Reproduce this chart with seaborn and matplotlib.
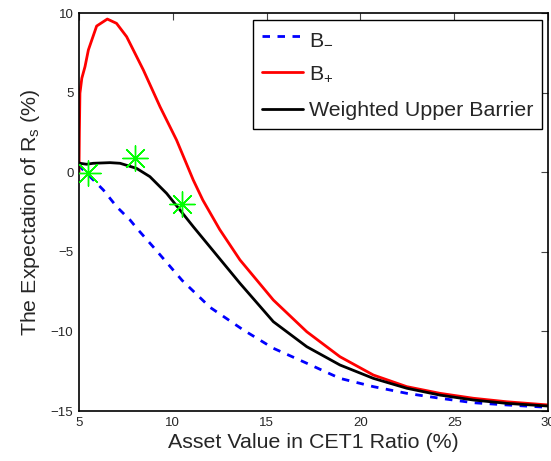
import numpy as np
import pandas as pd
import matplotlib
matplotlib.use('Agg')
import matplotlib.pyplot as plt
import seaborn as sns

# B_- (lower barrier)
blue_x = [5.0, 5.05, 5.59, 6.3, 7.01, 7.72, 8.16, 9.0, 10.5, 12.0, 13.76, 15.36, 17.14, 18.91, 20.69, 22.47, 24.24, 26.02, 27.8, 30.0]
blue_y = [0.5, 0.35, -0.28, -1.12, -2.17, -3.0, -3.63, -4.75, -6.8, -8.5, -9.91, -11.06, -12.0, -12.95, -13.47, -13.89, -14.2, -14.48, -14.62, -14.77]

# B_+ (upper barrier)
red_x = [5.0, 5.02, 5.05, 5.15, 5.32, 5.5, 5.94, 6.51, 7.0, 7.54, 8.43, 9.32, 10.2, 11.09, 11.6, 12.5, 13.58, 15.36, 17.14, 18.91, 20.69, 22.47, 24.24, 26.02, 27.8, 30.0]
red_y = [0.0, 2.5, 4.96, 5.9, 6.63, 7.68, 9.18, 9.62, 9.35, 8.51, 6.42, 4.11, 2.02, -0.49, -1.75, -3.6, -5.51, -8.03, -10.02, -11.59, -12.74, -13.47, -13.89, -14.2, -14.42, -14.62]

# weighted upper barrier
black_x = [5.0, 5.05, 5.4, 5.76, 6.65, 7.19, 8.07, 8.78, 9.67, 10.38, 11.09, 12.3, 13.58, 15.36, 17.14, 18.91, 20.69, 22.47, 24.24, 26.02, 27.8, 30.0]
black_y = [0.6, 0.56, 0.5, 0.56, 0.6, 0.56, 0.24, -0.28, -1.33, -2.37, -3.42, -5.15, -6.98, -9.39, -10.96, -12.11, -12.95, -13.57, -14.0, -14.31, -14.52, -14.69]

# highlighted points
star_x = [5.5, 7.98, 10.47]
star_y = [-0.07, 0.87, -2.0]

sns.set_style('white')
plt.rcParams['font.family'] = ['Liberation Sans', 'DejaVu Sans']
plt.rcParams['mathtext.fontset'] = 'custom'
plt.rcParams['mathtext.rm'] = 'Liberation Sans'
plt.rcParams['mathtext.it'] = 'Liberation Sans:italic'

fig = plt.figure(figsize=(5.51, 4.61), dpi=100)
ax = fig.add_axes([79 / 551, 50 / 461, 469 / 551, 398 / 461])

lw = 2.0
sns.lineplot(x=blue_x, y=blue_y, ax=ax, color='#0000ff', lw=lw, linestyle=(0, (2.7, 2.7)),
             label='B$_{-}$', sort=False)
sns.lineplot(x=red_x, y=red_y, ax=ax, color='#ff0000', lw=lw, label='B$_{+}$', sort=False)
sns.lineplot(x=black_x, y=black_y, ax=ax, color='black', lw=lw, label='Weighted Upper Barrier', sort=False)
sns.scatterplot(x=star_x, y=star_y, ax=ax, marker=(8, 2, 0), s=330, color='#00ff00',
                edgecolor='#00ff00', linewidth=1.0, zorder=5, legend=False)

ax.set_xlim(5, 30)
ax.set_ylim(-15, 10)
ax.set_xticks([5, 10, 15, 20, 25, 30])
ax.set_yticks([-15, -10, -5, 0, 5, 10])
ax.tick_params(direction='in', top=True, right=True, length=5, width=0.8,
               color='#444444', labelsize=9.5, pad=4)
for sp in ax.spines.values():
    sp.set_color('black')
    sp.set_linewidth(1.2)

ax.set_xlabel('Asset Value in CET1 Ratio (%)', fontsize=15.4, labelpad=3)
ax.set_ylabel('The Expectation of R$_\\mathrm{s}$ (%)', fontsize=15.4, labelpad=6)

leg = ax.legend(loc='upper right', bbox_to_anchor=(0.987, 0.982), borderaxespad=0,
                fontsize=15.4, frameon=True, fancybox=False, framealpha=1,
                edgecolor='black', handlelength=1.9, handletextpad=0.3,
                labelspacing=0.8, borderpad=0.4)
leg.get_frame().set_linewidth(1.0)

fig.savefig('out.png', dpi=100)
